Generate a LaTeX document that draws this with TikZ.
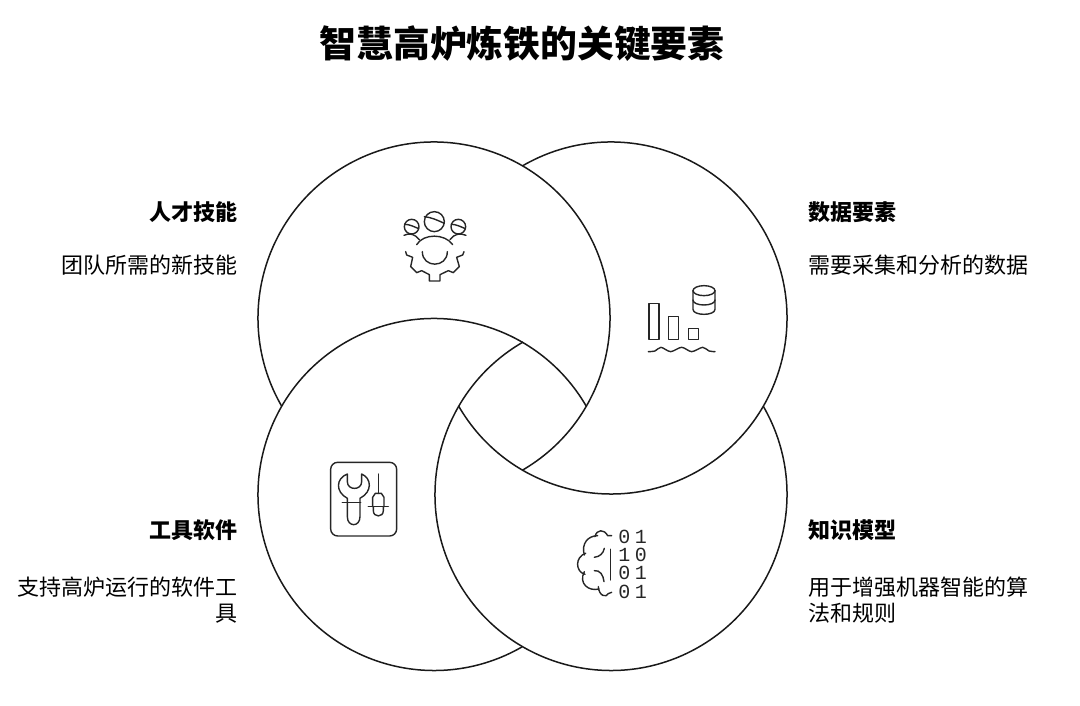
\documentclass[tikz,border=0pt]{standalone}
\usepackage{fontspec}
\setmainfont{Noto Sans CJK SC}
\newfontfamily\bitfont{Liberation Mono}
\usetikzlibrary{positioning,calc}
\tikzset{
  petal/.style={line width=1.5pt,black!90},
  icon/.style={line width=1.4pt,line cap=round,line join=round,black!85},
  head/.style={inner sep=0pt,font=\fontsize{22pt}{26pt}\selectfont\bfseries},
  desc/.style={inner sep=0pt,font=\fontsize{22pt}{26pt}\selectfont},
  bits/.style={inner sep=0pt,font=\fontsize{20pt}{20pt}\bitfont,black!85}
}
\begin{document}
\begin{tikzpicture}[x=1pt,y=1pt]
    \useasboundingbox (0,0) rectangle (1080,706);
    \coordinate (tl) at (434,388);
    \coordinate (tr) at (611,388);
    \coordinate (bl) at (434,211.5);
    \coordinate (br) at (611,211.5);
    \draw[petal] ($(tl)+(210:176)$) arc[start angle=210,end angle=-60,radius=176];
    \draw[petal] ($(tr)+(120:176)$) arc[start angle=120,end angle=-150,radius=176];
    \draw[petal] ($(br)+(30:176)$) arc[start angle=30,end angle=-240,radius=176];
    \draw[petal] ($(bl)+(-60:176)$) arc[start angle=-60,end angle=-330,radius=176];

    \node[inner sep=0pt,font=\fontsize{36.8pt}{40pt}\selectfont\bfseries] (title) at (522,662) {智慧高炉炼铁的关键要素};

    \node[head,anchor=east] (talent) at (237.5,494) {人才技能};
    \node[desc,below left=32.5pt and 0pt of talent.south east] (talentd) {团队所需的新技能};
    \node[head,anchor=west] (data) at (808,494) {数据要素};
    \node[desc,below right=32.5pt and 0pt of data.south west] (datad) {需要采集和分析的数据};
    \node[head,anchor=east] (tool) at (237.5,176) {工具软件};
    \node[desc,align=right,below left=36.5pt and 0pt of tool.south east] (toold) {支持高炉运行的软件工\\具};
    \node[head,anchor=west] (know) at (808,176) {知识模型};
    \node[desc,align=left,below right=36.5pt and 0pt of know.south west] (knowd) {用于增强机器智能的算\\法和规则};

    \begin{scope}[shift={(390,506)},x=.3333pt,y=-.3333pt,icon]
      \draw (133,65) circle[radius=30];
      \draw (103,50) .. controls (125,52) and (145,62) .. (163,70);
      \draw (65,80) circle[radius=22];
      \draw (44,73) .. controls (58,73) and (72,80) .. (86,86);
      \draw (205,80) circle[radius=22];
      \draw (184,73) .. controls (198,73) and (212,80) .. (226,86);
      \draw (42,106) .. controls (58,98) and (75,102) .. (88,119);
      \draw (80,134) .. controls (100,100) and (165,100) .. (188,134);
      \draw (180,119) .. controls (192,102) and (210,98) .. (228,106);
      \draw (97,155) .. controls (97,205) and (172,205) .. (172,155);
      \draw (47,155) -- (50,165) -- (68,172) -- (62,200) -- (80,218) -- (95,212) -- (118,224) -- (118,243) -- (150,243) -- (150,224) -- (175,212) -- (190,218) -- (208,200) -- (200,172) -- (218,165) -- (222,155);
    \end{scope}

    \begin{scope}[shift={(635,431)},x=.3333pt,y=-.3333pt,icon]
      \draw (42,85) rectangle (72,193);
      \draw (100,124) rectangle (130,193);
      \draw (160,160) rectangle (190,193);
      \draw plot[smooth] coordinates {(40,230) (60,228) (78,217) (107,230) (140,217) (170,230) (203,217) (222,228) (240,230)};
      \draw (207,47) ellipse[x radius=33,y radius=15];
      \draw (174,47) -- (174,103) .. controls (174,123) and (240,123) .. (240,103) -- (240,47);
      \draw (174,75) .. controls (174,95) and (240,95) .. (240,75);
    \end{scope}

    \begin{scope}[shift={(320,256)},x=.3333pt,y=-.3333pt,icon]
      \draw[rounded corners=7pt] (32,37) rectangle (230,258);
      \draw (82,72) -- (82,95) .. controls (82,122) and (125,122) .. (125,95) -- (125,72) .. controls (155,85) and (158,125) .. (120,145) -- (120,200) .. controls (120,232) and (82,232) .. (82,200) -- (82,145) .. controls (45,125) and (48,85) .. (82,72);
      \draw (67,157) -- (122,157);
      \draw (175,72) -- (175,130);
      \draw (158,170) -- (158,142) -- (166,130) -- (184,130) -- (192,142) -- (192,170);
      \draw (145,170) -- (205,170);
      \draw (160,170) -- (160,182) .. controls (160,203) and (190,203) .. (190,182) -- (190,170);
    \end{scope}

    \begin{scope}[shift={(565,191)},x=.3333pt,y=-.3333pt,icon]
      \draw (137,103) -- (137,195);
      \draw (140,62) -- (128,62) .. controls (118,42) and (95,42) .. (90,65);
      \draw (98,62) .. controls (70,62) and (48,85) .. (58,120);
      \draw (62,115) .. controls (30,125) and (30,170) .. (60,178);
      \draw (58,170) .. controls (40,205) and (70,230) .. (102,222);
      \draw (100,215) .. controls (102,245) and (125,248) .. (130,236) -- (140,232);
      \draw (88,127) .. controls (105,125) and (115,115) .. (118,100);
      \draw (88,167) .. controls (105,165) and (115,180) .. (117,200);
      \node[bits] (bita) at (203,65) {0\hspace{4.7pt}1};
      \node[bits] (bitb) at (203,120) {1\hspace{4.7pt}0};
      \node[bits] (bitc) at (203,175) {0\hspace{4.7pt}1};
      \node[bits] (bitd) at (203,230) {0\hspace{4.7pt}1};
    \end{scope}
  \end{tikzpicture}
\end{document}
